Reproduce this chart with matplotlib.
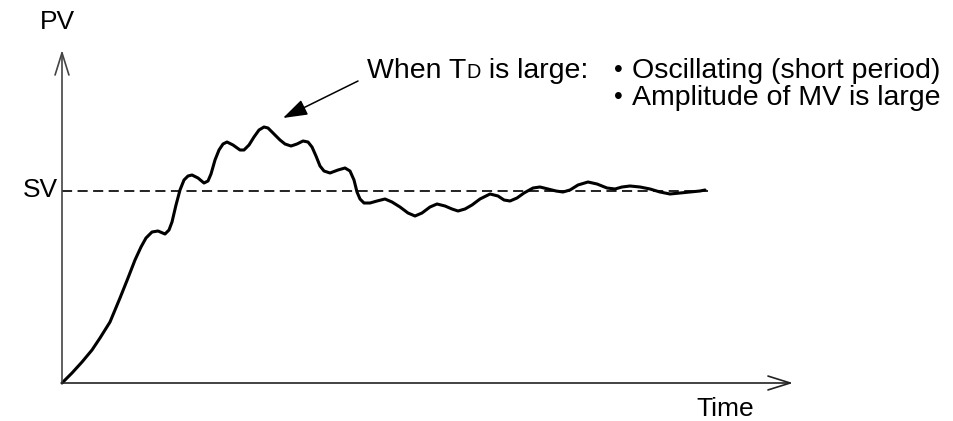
import matplotlib
matplotlib.use("Agg")
import matplotlib.pyplot as plt

plt.rcParams['font.family'] = ['Liberation Sans', 'DejaVu Sans']

# PV response (arbitrary units, origin at the axes corner)
time = [0, 10, 20, 30, 38, 48, 58, 66, 73, 79, 84, 90, 96, 103, 107, 110, 114,
        118, 122, 126, 130, 136, 142, 146, 149, 153, 157, 161, 165, 171, 178,
        182, 187, 192, 197, 202, 206, 212, 218, 223, 229, 235, 241, 246, 250,
        254, 258, 262, 268, 276, 283, 288, 292, 295, 298, 302, 308, 315, 323,
        330, 338, 346, 353, 360, 368, 375, 383, 390, 396, 403, 410, 418, 428,
        436, 442, 448, 455, 462, 471, 478, 486, 494, 501, 508, 516, 526, 535,
        545, 553, 560, 568, 578, 588, 598, 608, 618, 628, 638, 643]
pv = [0, 10, 21, 33, 45, 61, 85, 105, 123, 136, 145, 151, 152, 149, 153, 161,
      178, 193, 203, 207, 208, 205, 200, 202, 209, 223, 233, 239, 241, 238,
      233, 233, 238, 246, 253, 256, 255, 249, 243, 239, 237, 239, 242, 241,
      236, 227, 217, 212, 210, 213, 215, 212, 203, 191, 184, 180, 180, 182,
      184, 181, 176, 170, 167, 170, 176, 179, 177, 174, 172, 174, 178, 184,
      189, 187, 183, 182, 185, 190, 195, 196, 194, 192, 191, 193, 198, 201,
      199, 195, 194, 196, 197, 196, 194, 191, 189, 190, 191, 192, 193]

sv = 192
t_end = 646

fig = plt.figure(figsize=(9.54, 4.21), dpi=100)
ax = fig.add_axes([0, 0, 1, 1])
ax.set_xlim(-62, 892)
ax.set_ylim(-38, 383)
ax.axis('off')

# axes with open arrow heads
ax.annotate('', xy=(0, 333), xytext=(0, 0),
            arrowprops=dict(arrowstyle='->,head_length=1.6,head_width=0.5',
                            lw=1.2, color='#444444', shrinkA=0, shrinkB=0))
ax.annotate('', xy=(731, 0), xytext=(0, 0),
            arrowprops=dict(arrowstyle='->,head_length=1.6,head_width=0.5',
                            lw=1.2, color='#222222', shrinkA=0, shrinkB=0))

ax.plot([0, t_end], [sv, sv], color='#222222', lw=1.4, ls=(0, (5.2, 2.8)))
ax.plot(time, pv, color='black', lw=2.2, solid_joinstyle='round',
        solid_capstyle='round')

fs = 19
ax.text(-5, 361, 'PV', fontsize=fs, ha='center', va='center')
ax.text(-4, 193, 'SV', fontsize=fs, ha='right', va='center')
ax.text(663, -26, 'Time', fontsize=fs, ha='center', va='center')

ax.annotate('', xy=(221, 265), xytext=(296, 302),
            arrowprops=dict(arrowstyle='-|>,head_length=1.5,head_width=0.5',
                            lw=1.1, color='black', shrinkA=0, shrinkB=0))

# "When TD is large:" with a small D
fs2 = 20.5
fig.canvas.draw()
r = fig.canvas.get_renderer()
x0, y0 = 305, 305
t1 = ax.text(x0, y0, 'When T', fontsize=fs2, ha='left', va='baseline')
bb = t1.get_window_extent(r).transformed(ax.transData.inverted())
t2 = ax.text(bb.x1, y0, 'D', fontsize=fs2 * 0.7, ha='left', va='baseline')
bb = t2.get_window_extent(r).transformed(ax.transData.inverted())
ax.text(bb.x1, y0, ' is large:', fontsize=fs2, ha='left', va='baseline')

ax.text(552, y0 + 1, '\u2022', fontsize=18, ha='left', va='baseline')
ax.text(570, y0, 'Oscillating (short period)', fontsize=fs2, ha='left', va='baseline')
ax.text(552, y0 - 26, '\u2022', fontsize=18, ha='left', va='baseline')
ax.text(570, y0 - 27, 'Amplitude of MV is large', fontsize=fs2, ha='left', va='baseline')

fig.savefig('out.png', dpi=100)
